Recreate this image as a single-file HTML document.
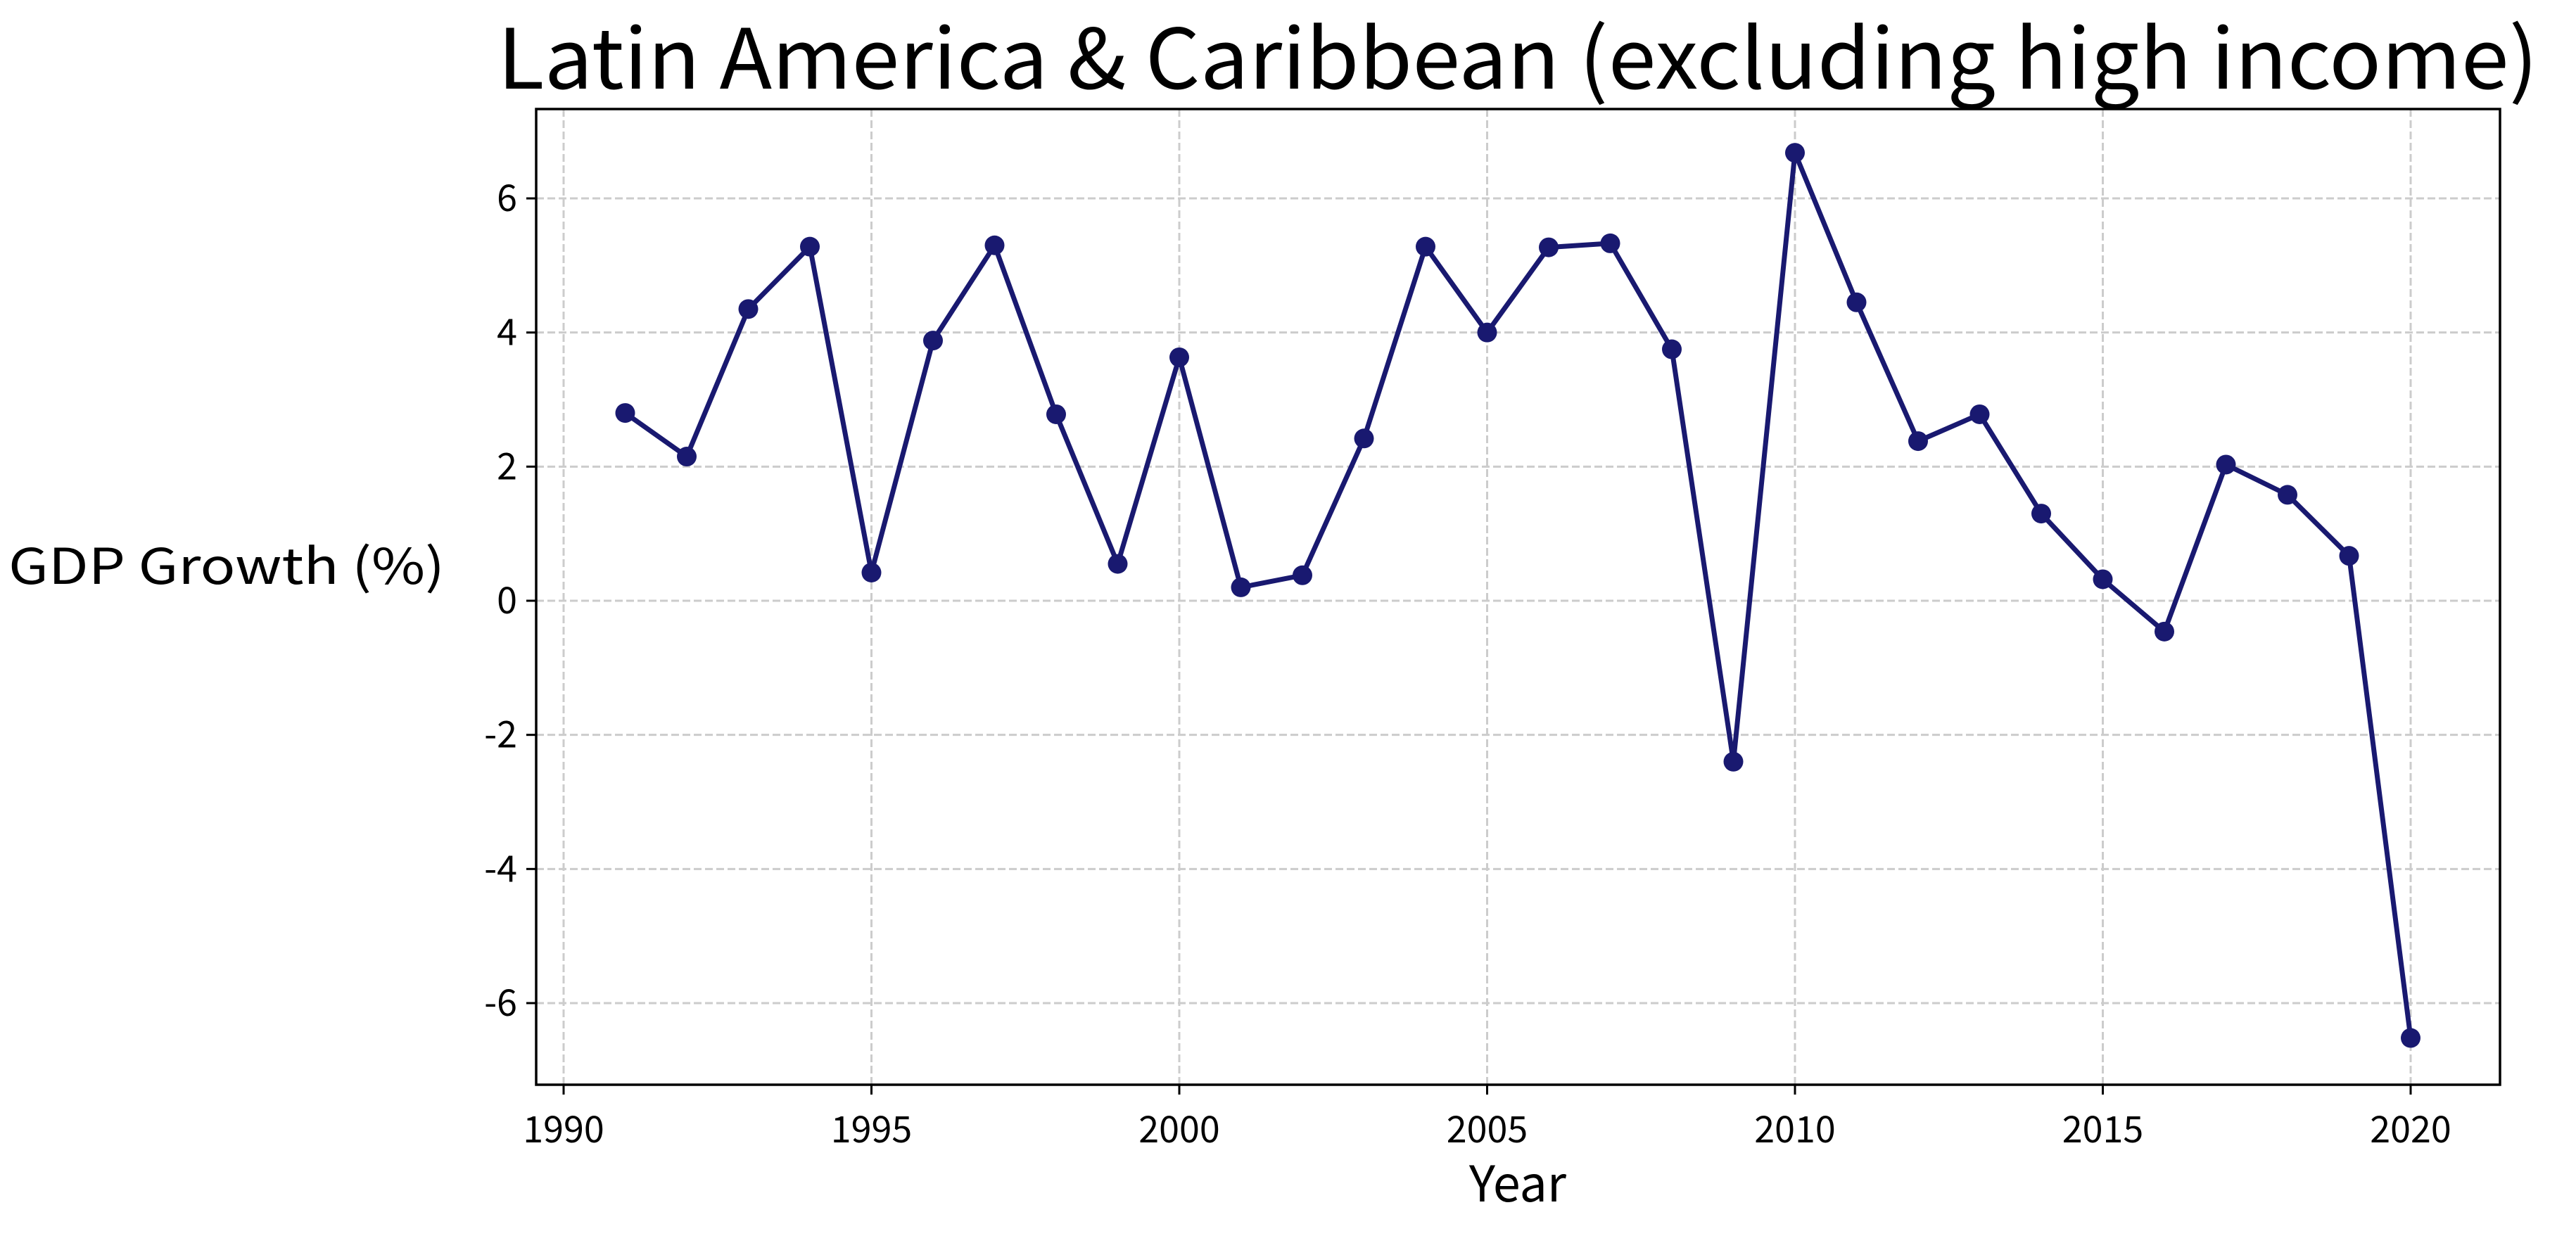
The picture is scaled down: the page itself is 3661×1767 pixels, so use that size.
<!DOCTYPE html>
<html><head><meta charset="utf-8"><style>html,body{margin:0;padding:0;background:#fff}</style></head>
<body>
<svg id="chart" width="3661" height="1762" xmlns="http://www.w3.org/2000/svg" font-family="'Noto Sans CJK KR','Liberation Sans',sans-serif">
<rect width="3661" height="1762" fill="#fff"/>
<g id="grid"></g>
<g id="ticks"></g>
<g id="series"></g>
<rect x="762" y="155" width="2791" height="1387" fill="none" stroke="#000" stroke-width="3.5"/>
<text x="2157" y="126" font-size="118" text-anchor="middle" textLength="2900" lengthAdjust="spacingAndGlyphs">Latin America &amp; Caribbean (excluding high income)</text>
<text x="2157" y="1708" font-size="70" text-anchor="middle">Year</text>
<text x="322" y="830" font-size="70" text-anchor="middle" textLength="620" lengthAdjust="spacingAndGlyphs">GDP Growth (%)</text>
</svg>
<script>
const years = [1991,1992,1993,1994,1995,1996,1997,1998,1999,2000,2001,2002,2003,2004,2005,2006,2007,2008,2009,2010,2011,2012,2013,2014,2015,2016,2017,2018,2019,2020];
const growth = [2.8,2.15,4.35,5.28,0.42,3.88,5.3,2.78,0.55,3.63,0.2,0.38,2.42,5.28,4.0,5.27,5.33,3.75,-2.4,6.68,4.45,2.38,2.78,1.3,0.32,-0.46,2.03,1.58,0.67,-6.52];
const xTicks = [1990,1995,2000,2005,2010,2015,2020];
const yTicks = [-6,-4,-2,0,2,4,6];
const NS='http://www.w3.org/2000/svg';
const xs = y => 801 + (y-1990)*(3426-801)/30;
const ys = v => 854 - v*95.33;
function mk(tag, attrs, parent){const e=document.createElementNS(NS,tag);for(const k in attrs)e.setAttribute(k,attrs[k]);parent.appendChild(e);return e;}
const grid=document.getElementById('grid'), ticks=document.getElementById('ticks'), series=document.getElementById('series');
xTicks.forEach(t=>{
  const g=mk('line',{x1:xs(t),x2:xs(t),y1:155,y2:1542,stroke:'#cccccc','stroke-width':3,'stroke-dasharray':'11,5'},grid);
  
  
  const tk=mk('line',{x1:xs(t),x2:xs(t),y1:1542,y2:1556,stroke:'#000','stroke-width':3},ticks);
  
  
  const tx=mk('text',{x:xs(t),y:1624,'font-size':52,'text-anchor':'middle'},ticks);
  tx.textContent=t;
  
  
});
yTicks.forEach(t=>{
  const g=mk('line',{x1:762,x2:3553,y1:ys(t),y2:ys(t),stroke:'#cccccc','stroke-width':3,'stroke-dasharray':'11,5'},grid);
  
  
  const tk=mk('line',{x1:748,x2:762,y1:ys(t),y2:ys(t),stroke:'#000','stroke-width':3},ticks);
  
  
  const tx=mk('text',{x:735,y:ys(t)+18,'font-size':52,'text-anchor':'end'},ticks);
  tx.textContent=t;
  
  
});
const pts=years.map((y,i)=>xs(y)+','+ys(growth[i])).join(' ');
const pl=mk('polyline',{points:pts,fill:'none',stroke:'#191970','stroke-width':7,'stroke-linejoin':'round'},series);


years.forEach((y,i)=>{
  const c=mk('circle',{cx:xs(y),cy:ys(growth[i]),r:14,fill:'#191970'},series);
  
  
});
</script>
</body></html>
